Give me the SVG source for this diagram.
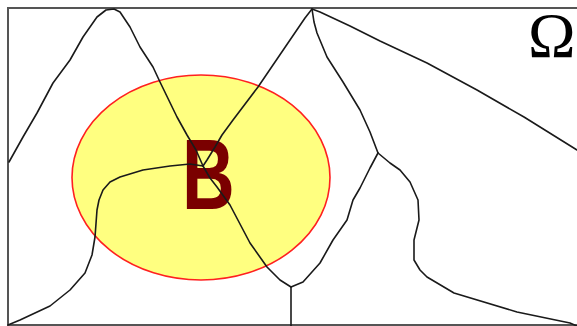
<svg xmlns="http://www.w3.org/2000/svg" width="577" height="326" viewBox="0 0 577 326">
<style>
.edge{fill:none;stroke:#1a1a1a;stroke-width:1.6;stroke-linejoin:round;stroke-linecap:round}
.frame{fill:none;stroke:#555;stroke-width:2}
.set{fill:#ffff80;stroke:#ff2020;stroke-width:1.6}
.lblB{font-family:"Liberation Sans",Arial,sans-serif;font-weight:bold;font-size:100px;fill:#7a0000}
.lblO{font-family:"Liberation Serif","Times New Roman",serif;font-size:64px;fill:#000}
</style>
<rect width="577" height="326" fill="#fff"/>
<g id="omega-frame">
<rect class="frame" x="8" y="8" width="620" height="317"/>
<text class="lblO" x="528" y="57">Ω</text>
</g>
<g id="set-B">
<ellipse class="set" cx="201" cy="177.5" rx="129" ry="102.5"/>
<text class="lblB" transform="translate(182,209) scale(0.73,1)">B</text>
</g>
<g id="connectors">
<path class="edge" d="M9,162 L23,137 L37,113 L53,83 L70,60 L83,37 L97,17 L106,10 L114,9 L120,12 L130,27 L140,47 L153,67 L160,82 L177,117 L187,135 L196,150 L203,166"/>
<path class="edge" d="M8,325 L20,320 L50,306 L70,290 L85,273 L92,255 L95,237 L97,210 L99,200 L103,190 L110,182 L120,177 L143,170 L170,166 L190,164 L203,166"/>
<path class="edge" d="M203,166 L207,160 L215,147 L222,135 L233,120 L258,87 L290,40 L305,18 L312,9"/>
<path class="edge" d="M312,9 L320,12 L350,26 L380,41 L427,63 L477,90 L524,117 L577,150"/>
<path class="edge" d="M312,9 L314,22 L317,33 L327,57 L343,82 L360,110 L370,132 L378,153"/>
<path class="edge" d="M378,153 L370,168 L360,188 L353,200 L347,220 L333,240 L320,263 L303,282 L291,287"/>
<path class="edge" d="M378,153 L390,163 L400,170 L410,182 L418,200 L419,220 L414,240 L414,260 L420,270 L427,277 L454,293 L517,312 L570,323 L577,326"/>
<path class="edge" d="M203,166 L210,178 L217,187 L230,205 L250,243 L267,267 L280,280 L291,287"/>
<path class="edge" d="M291,287 L291,326"/>
</g>
</svg>
